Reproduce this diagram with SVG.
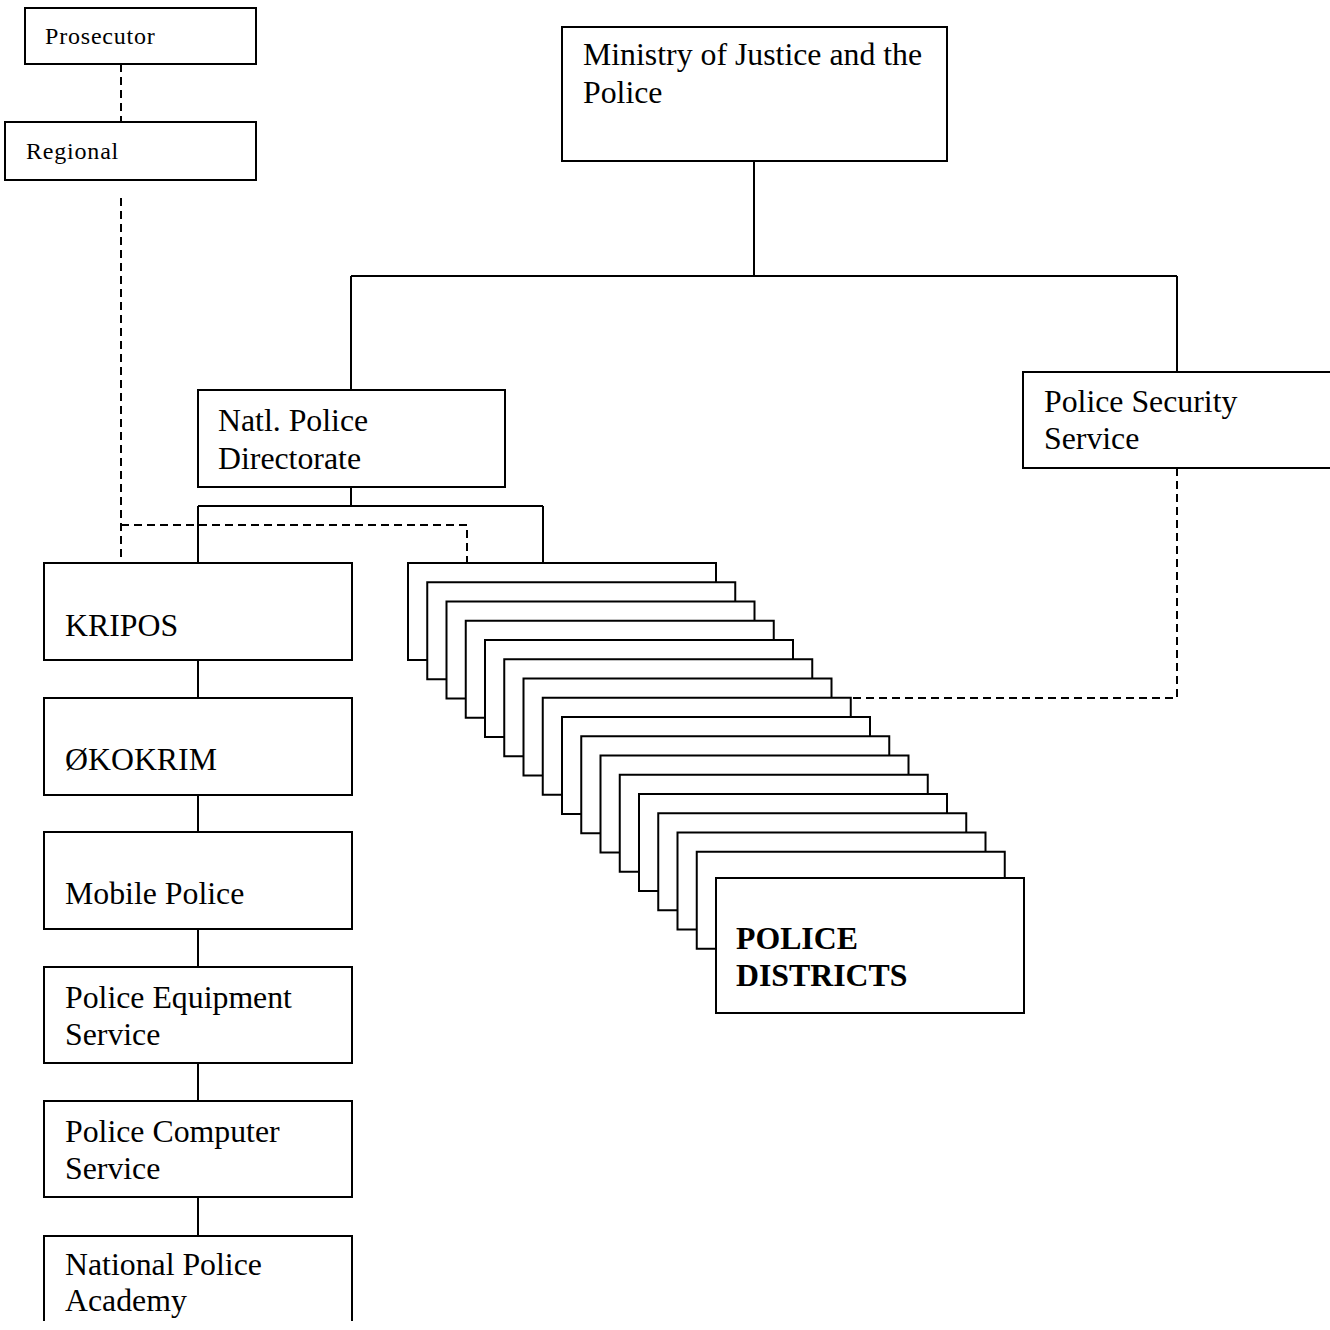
<svg xmlns="http://www.w3.org/2000/svg" width="1330" height="1330" viewBox="0 0 1330 1330">
<style>
.box{fill:#fff;stroke:#000;stroke-width:2}
.ln{fill:none;stroke:#000;stroke-width:2}
.dash{fill:none;stroke:#000;stroke-width:2;stroke-dasharray:8,5}
.t{font-family:"Liberation Serif","Times New Roman",serif;font-size:31.8px;fill:#000}
.s{font-family:"Liberation Serif","Times New Roman",serif;font-size:24px;letter-spacing:0.8px;fill:#000}
.b{font-weight:bold}
</style>
<rect width="1330" height="1330" fill="#fff"/>
<g id="connectors">
<path class="dash" d="M121 64V122"/>
<path class="dash" d="M121 198V563"/>
<path class="dash" d="M121 525H467V563"/>
<path class="ln" d="M754 161V276M351 276H1177M351 276V390M1177 276V372"/>
<path class="ln" d="M351 487V506M198 506H543M198 506V563M543 506V563"/>
<path class="ln" d="M198 660V698M198 795V832M198 929V967M198 1063V1101M198 1197V1236"/>
<path class="dash" d="M1177 468V698H851"/>
</g>
<g id="prosecutor"><rect class="box" x="25" y="8" width="231" height="56"/><text class="s" x="45" y="44">Prosecutor</text></g>
<g id="regional"><rect class="box" x="5" y="122" width="251" height="58"/><text class="s" x="26" y="159">Regional</text></g>
<g id="ministry"><rect class="box" x="562" y="27" width="385" height="134"/><text class="t" x="583" y="65">Ministry of Justice and the</text><text class="t" x="583" y="102.5">Police</text></g>
<g id="directorate"><rect class="box" x="198" y="390" width="307" height="97"/><text class="t" x="218" y="431">Natl. Police</text><text class="t" x="218" y="469">Directorate</text></g>
<g id="security"><rect class="box" x="1023" y="372" width="320" height="96"/><text class="t" x="1044" y="412">Police Security</text><text class="t" x="1044" y="449">Service</text></g>
<g id="kripos"><rect class="box" x="44" y="563" width="308" height="97"/><text class="t" x="65" y="636">KRIPOS</text></g>
<g id="okokrim"><rect class="box" x="44" y="698" width="308" height="97"/><text class="t" x="65" y="770">ØKOKRIM</text></g>
<g id="mobile"><rect class="box" x="44" y="832" width="308" height="97"/><text class="t" x="65" y="904">Mobile Police</text></g>
<g id="equipment"><rect class="box" x="44" y="967" width="308" height="96"/><text class="t" x="65" y="1008">Police Equipment</text><text class="t" x="65" y="1045">Service</text></g>
<g id="computer"><rect class="box" x="44" y="1101" width="308" height="96"/><text class="t" x="65" y="1142">Police Computer</text><text class="t" x="65" y="1179">Service</text></g>
<g id="academy"><path class="box" d="M44 1321V1236H352V1321"/><text class="t" x="65" y="1275">National Police</text><text class="t" x="65" y="1311">Academy</text></g>
<g id="districts">
<rect class="box" x="408" y="563" width="308" height="97"/>
<rect class="box" x="427.25" y="582.25" width="308" height="97"/>
<rect class="box" x="446.5" y="601.5" width="308" height="97"/>
<rect class="box" x="465.75" y="620.75" width="308" height="97"/>
<rect class="box" x="485" y="640" width="308" height="97"/>
<rect class="box" x="504.25" y="659.25" width="308" height="97"/>
<rect class="box" x="523.5" y="678.5" width="308" height="97"/>
<rect class="box" x="542.75" y="697.75" width="308" height="97"/>
<rect class="box" x="562" y="717" width="308" height="97"/>
<rect class="box" x="581.25" y="736.25" width="308" height="97"/>
<rect class="box" x="600.5" y="755.5" width="308" height="97"/>
<rect class="box" x="619.75" y="774.75" width="308" height="97"/>
<rect class="box" x="639" y="794" width="308" height="97"/>
<rect class="box" x="658.25" y="813.25" width="308" height="97"/>
<rect class="box" x="677.5" y="832.5" width="308" height="97"/>
<rect class="box" x="696.75" y="851.75" width="308" height="97"/>
<rect class="box" x="716" y="878" width="308" height="135"/>
<text class="t b" x="736" y="949">POLICE</text><text class="t b" x="736" y="986">DISTRICTS</text>
</g>
</svg>
